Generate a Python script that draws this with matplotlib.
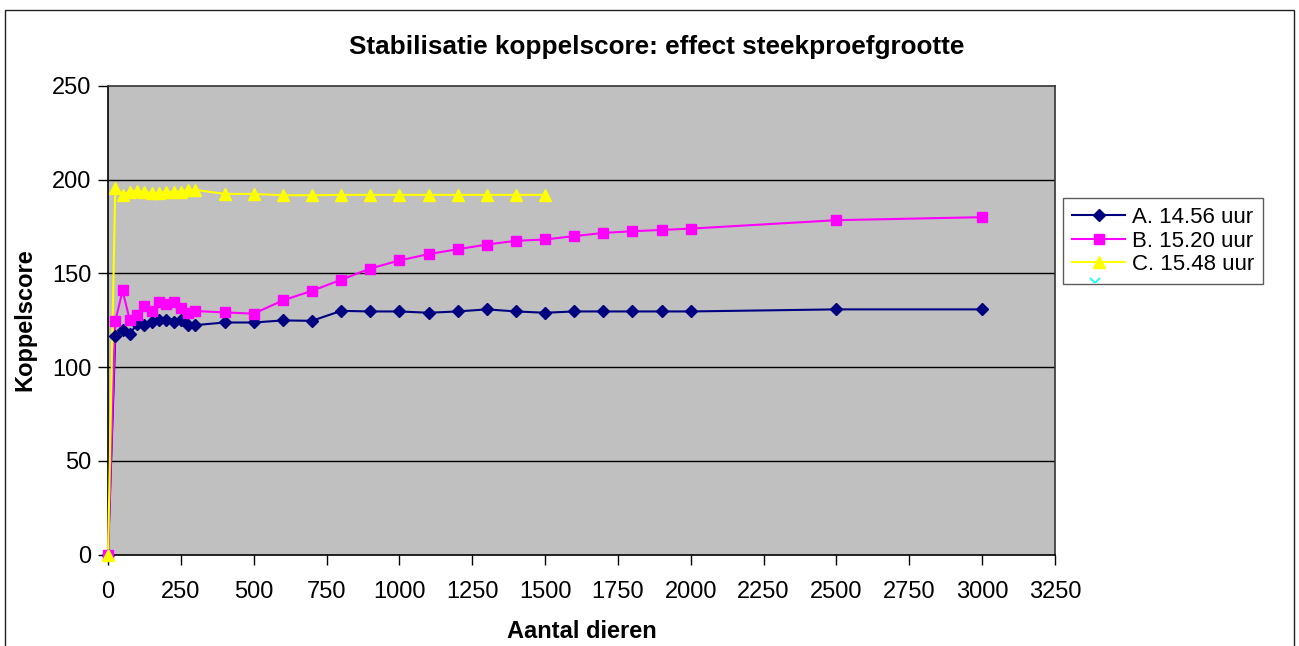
import matplotlib
matplotlib.use("Agg")
import matplotlib.pyplot as plt
from matplotlib.lines import Line2D
from matplotlib.patches import Rectangle
from matplotlib.transforms import Bbox

plt.rcParams['font.family'] = ['Liberation Sans', 'DejaVu Sans']

x_early = [0, 25, 50, 75, 100, 125, 150, 175, 200, 225, 250, 275, 300]
x_mid = [400, 500, 600, 700, 800, 900, 1000, 1100, 1200, 1300, 1400, 1500,
         1600, 1700, 1800, 1900, 2000]
x_late = [2500, 3000]
x_ab = x_early + x_mid + x_late
x_c = x_early + x_mid[:12]

a_vals = [0, 116.4, 119.6, 117.8, 123.0, 122.4, 123.8, 124.9, 124.9, 124.2, 124.9, 122.4, 122.4,
          123.8, 123.8, 124.9, 124.7, 130.0, 129.7, 129.7, 129.0, 129.7, 130.8, 129.7, 129.0,
          129.7, 129.7, 129.7, 129.7, 129.7,
          130.8, 130.8]
b_vals = [0, 124.4, 140.9, 124.9, 127.8, 132.4, 130.2, 134.9, 133.8, 134.9, 131.7, 128.8, 129.9,
          129.2, 128.5, 135.6, 140.7, 146.6, 152.6, 156.9, 160.3, 162.9, 165.4, 167.4, 168.1,
          169.9, 171.6, 172.5, 173.2, 173.9,
          178.4, 180.0]
c_vals = [0, 195.8, 191.9, 193.5, 194.2, 193.5, 192.8, 192.8, 193.5, 193.5, 193.5, 194.6, 194.6,
          192.4, 192.4, 191.7, 191.7, 191.9, 191.9, 191.9, 191.9, 191.9, 191.9, 191.9, 191.9]

labels = ['A. 14.56 uur', 'B. 15.20 uur', 'C. 15.48 uur']
title = 'Stabilisatie koppelscore: effect steekproefgrootte'
xlabel = 'Aantal dieren'
ylabel = 'Koppelscore'

W, H = 1299, 646
fig = plt.figure(figsize=(W / 100, H / 100), dpi=100)
ax = fig.add_axes([108 / W, 1 - 554.5 / H, (1055 - 108) / W, (554.5 - 86) / H])
ax.set_facecolor('#C0C0C0')

# figure border
fig.add_artist(Rectangle((5 / W, -0.01), (1294 - 5) / W, 1 - 10 / H + 0.01,
                         transform=fig.transFigure, fill=False, edgecolor='#222222', lw=1.0))

for yv in [50, 100, 150, 200]:
    ax.axhline(yv, color='black', lw=1.0, zorder=1)

series = [
    (x_ab, a_vals, '#000080', 'D', 6.5),
    (x_ab, b_vals, '#FF00FF', 's', 7),
    (x_c, c_vals, '#FFFF00', '^', 9),
]
handles = []
for xs, ys, col, mk, ms in series:
    ax.plot(xs, ys, color=col, lw=1.5, zorder=2.6, clip_on=False)
for (xs, ys, col, mk, ms), lab in zip(series, labels):
    ax.plot(xs, ys, linestyle='none', marker=mk, markersize=ms, markerfacecolor=col,
            markeredgecolor=col, zorder=3, clip_on=False)
    handles.append(Line2D([], [], color=col, lw=1.5, marker=mk, markersize=ms,
                          markerfacecolor=col, markeredgecolor=col, label=lab))

ax.set_xlim(0, 3250)
ax.set_ylim(0, 250)
ax.set_xticks(range(0, 3251, 250))
ax.set_yticks(range(0, 251, 50))
ax.tick_params(axis='both', direction='out', length=7, width=1, labelsize=17, colors='black')
ax.tick_params(axis='x', pad=12)
ax.tick_params(axis='y', pad=5)
for s in ['left', 'bottom']:
    ax.spines[s].set_color('black')
    ax.spines[s].set_linewidth(1.2)
for s in ['top', 'right']:
    ax.spines[s].set_color('#333333')
    ax.spines[s].set_linewidth(1.2)

fig.text(657 / W, 1 - 47 / H, title, ha='center', va='center', fontsize=18.8, fontweight='bold')
fig.text(582 / W, 1 - 631 / H, xlabel, ha='center', va='center', fontsize=17, fontweight='bold')
fig.text(25 / W, 1 - 320 / H, ylabel, ha='center', va='center', fontsize=17, fontweight='bold',
         rotation=90)

leg = ax.legend(handles=handles, loc='upper left', bbox_to_anchor=(1063 / W, 1 - 198 / H),
                bbox_transform=fig.transFigure, fontsize=16, frameon=True, fancybox=False,
                borderpad=0.4, labelspacing=0.12, handlelength=2.4, handletextpad=0.3,
                borderaxespad=0)
leg.get_frame().set_edgecolor('#333333')
leg.get_frame().set_linewidth(1.0)
leg.get_frame().set_facecolor('white')

# clipped fourth legend marker (cyan)
clip = Bbox.from_extents(1080, H - 282, 1110, H - 275)
m = Line2D([1095 / W], [1 - 283 / H], transform=fig.transFigure, marker='x', markersize=7,
           color='#00FFFF', markeredgewidth=1.2, linestyle='none')
m.set_clip_box(clip)
fig.add_artist(m)

fig.savefig('out.png', dpi=100)
